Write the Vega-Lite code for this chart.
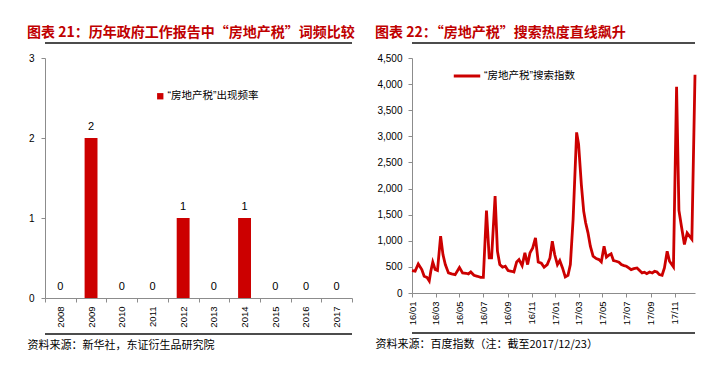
{
  "$schema": "https://vega.github.io/schema/vega-lite/v6.json",
  "background": "white",
  "padding": {"left": 27, "top": 26, "right": 5, "bottom": 5},
  "spacing": 20,
  "resolve": {"scale": {"color": "independent"}, "legend": {"color": "independent"}},
  "config": {
    "view": {"stroke": null},
    "font": "Liberation Sans",
    "axis": {
      "domainColor": "#8c8c8c",
      "tickColor": "#8c8c8c",
      "labelColor": "#000000",
      "labelFont": "Liberation Sans",
      "labelFontSize": 10,
      "grid": false,
      "tickSize": 4
    },
    "title": {
      "font": "Noto Sans CJK SC",
      "fontSize": 14,
      "fontWeight": "bold",
      "color": "#C00000",
      "anchor": "start",
      "offset": 2
    },
    "legend": {"padding": 0, "labelFont": "Liberation Sans, Noto Sans CJK SC", "labelFontSize": 10.5, "labelColor": "#000000"}
  },
  "datasets": {
    "freq": [
      {"year": "2008", "count": 0},
      {"year": "2009", "count": 2},
      {"year": "2010", "count": 0},
      {"year": "2011", "count": 0},
      {"year": "2012", "count": 1},
      {"year": "2013", "count": 0},
      {"year": "2014", "count": 1},
      {"year": "2015", "count": 0},
      {"year": "2016", "count": 0},
      {"year": "2017", "count": 0}
    ],
    "idx": [
      {"date": "2016-01-01", "value": 430},
      {"date": "2016-01-09", "value": 420},
      {"date": "2016-01-17", "value": 555},
      {"date": "2016-01-26", "value": 450},
      {"date": "2016-02-01", "value": 320},
      {"date": "2016-02-08", "value": 300},
      {"date": "2016-02-14", "value": 230},
      {"date": "2016-02-18", "value": 416},
      {"date": "2016-02-23", "value": 590},
      {"date": "2016-02-29", "value": 450},
      {"date": "2016-03-06", "value": 430},
      {"date": "2016-03-14", "value": 1090},
      {"date": "2016-03-20", "value": 736},
      {"date": "2016-03-26", "value": 544},
      {"date": "2016-04-03", "value": 384},
      {"date": "2016-04-11", "value": 365},
      {"date": "2016-04-20", "value": 352},
      {"date": "2016-05-01", "value": 490},
      {"date": "2016-05-09", "value": 384},
      {"date": "2016-05-18", "value": 378},
      {"date": "2016-05-24", "value": 365},
      {"date": "2016-05-30", "value": 403},
      {"date": "2016-06-07", "value": 339},
      {"date": "2016-06-16", "value": 320},
      {"date": "2016-06-24", "value": 300},
      {"date": "2016-07-01", "value": 300},
      {"date": "2016-07-09", "value": 1580},
      {"date": "2016-07-16", "value": 672},
      {"date": "2016-07-22", "value": 672},
      {"date": "2016-07-31", "value": 1856},
      {"date": "2016-08-06", "value": 800},
      {"date": "2016-08-12", "value": 544},
      {"date": "2016-08-19", "value": 493},
      {"date": "2016-08-26", "value": 512},
      {"date": "2016-09-02", "value": 429},
      {"date": "2016-09-11", "value": 416},
      {"date": "2016-09-17", "value": 403},
      {"date": "2016-09-24", "value": 595},
      {"date": "2016-09-30", "value": 640},
      {"date": "2016-10-08", "value": 525},
      {"date": "2016-10-15", "value": 768},
      {"date": "2016-10-22", "value": 544},
      {"date": "2016-10-28", "value": 768},
      {"date": "2016-11-04", "value": 864},
      {"date": "2016-11-11", "value": 1056},
      {"date": "2016-11-18", "value": 595},
      {"date": "2016-11-26", "value": 570},
      {"date": "2016-12-03", "value": 493},
      {"date": "2016-12-11", "value": 544},
      {"date": "2016-12-18", "value": 672},
      {"date": "2016-12-24", "value": 990},
      {"date": "2016-12-30", "value": 736},
      {"date": "2017-01-06", "value": 544},
      {"date": "2017-01-12", "value": 621},
      {"date": "2017-01-19", "value": 480},
      {"date": "2017-01-26", "value": 307},
      {"date": "2017-02-02", "value": 339},
      {"date": "2017-02-08", "value": 544},
      {"date": "2017-02-15", "value": 1408},
      {"date": "2017-02-24", "value": 3075},
      {"date": "2017-03-01", "value": 2850},
      {"date": "2017-03-08", "value": 2080},
      {"date": "2017-03-14", "value": 1568},
      {"date": "2017-03-19", "value": 1344},
      {"date": "2017-03-25", "value": 1152},
      {"date": "2017-03-31", "value": 896},
      {"date": "2017-04-07", "value": 704},
      {"date": "2017-04-15", "value": 659},
      {"date": "2017-04-22", "value": 640},
      {"date": "2017-04-28", "value": 595},
      {"date": "2017-05-05", "value": 896},
      {"date": "2017-05-11", "value": 685},
      {"date": "2017-05-17", "value": 723},
      {"date": "2017-05-23", "value": 749},
      {"date": "2017-05-29", "value": 621},
      {"date": "2017-06-05", "value": 608},
      {"date": "2017-06-12", "value": 589},
      {"date": "2017-06-18", "value": 544},
      {"date": "2017-06-25", "value": 525},
      {"date": "2017-07-01", "value": 512},
      {"date": "2017-07-07", "value": 480},
      {"date": "2017-07-13", "value": 448},
      {"date": "2017-07-20", "value": 467},
      {"date": "2017-07-28", "value": 480},
      {"date": "2017-08-03", "value": 435},
      {"date": "2017-08-10", "value": 384},
      {"date": "2017-08-16", "value": 397},
      {"date": "2017-08-22", "value": 371},
      {"date": "2017-08-29", "value": 403},
      {"date": "2017-09-05", "value": 384},
      {"date": "2017-09-11", "value": 416},
      {"date": "2017-09-17", "value": 403},
      {"date": "2017-09-23", "value": 352},
      {"date": "2017-09-30", "value": 339},
      {"date": "2017-10-06", "value": 480},
      {"date": "2017-10-13", "value": 800},
      {"date": "2017-10-19", "value": 608},
      {"date": "2017-10-29", "value": 500},
      {"date": "2017-11-06", "value": 3950},
      {"date": "2017-11-12", "value": 1580},
      {"date": "2017-11-19", "value": 1250},
      {"date": "2017-11-26", "value": 930},
      {"date": "2017-12-03", "value": 1150},
      {"date": "2017-12-09", "value": 1090},
      {"date": "2017-12-15", "value": 1030},
      {"date": "2017-12-23", "value": 4180}
    ]
  },
  "hconcat": [
    {
      "title": {"text": "图表 21：历年政府工作报告中“房地产税”词频比较"},
      "width": 307,
      "height": 240,
      "data": {"name": "freq"},
      "layer": [
        {
          "mark": {"type": "bar", "width": {"band": 0.42}, "color": "#CC0000"},
          "encoding": {
            "x": {
              "field": "year", "type": "ordinal",
              "scale": {"paddingInner": 0, "paddingOuter": 0},
              "axis": {"title": null, "labelAngle": -90, "tickBand": "extent", "labelPadding": 4, "labelFontSize": 9.5}
            },
            "y": {
              "field": "count", "type": "quantitative",
              "scale": {"domain": [0, 3]},
              "axis": {"title": null, "values": [0, 1, 2, 3], "labelPadding": 7}
            },
            "color": {
              "datum": "“房地产税”出现频率",
              "scale": {"range": ["#CC0000"]},
              "legend": {"title": null, "orient": "none", "legendX": 110, "legendY": 33, "symbolType": "square", "symbolSize": 40, "labelOffset": 2}
            }
          }
        },
        {
          "mark": {"type": "text", "baseline": "bottom", "dy": -6, "fontSize": 11, "font": "Liberation Sans", "color": "#000000"},
          "encoding": {
            "x": {"field": "year", "type": "ordinal", "axis": null},
            "y": {"field": "count", "type": "quantitative", "axis": null},
            "text": {"field": "count", "type": "quantitative"}
          }
        },
        {
          "mark": {"type": "rule", "stroke": "#4d4d4d", "strokeWidth": 1.6, "clip": false},
          "encoding": {
            "x": {"value": 0},
            "x2": {"value": "width"},
            "y": {"datum": 3.1875, "type": "quantitative", "axis": null}
          }
        },
        {
          "mark": {"type": "rule", "stroke": "#4d4d4d", "strokeWidth": 1.6, "clip": false},
          "encoding": {
            "x": {"value": 0},
            "x2": {"value": "width"},
            "y": {"datum": -0.45, "type": "quantitative", "axis": null}
          }
        },
        {
          "mark": {"type": "point", "opacity": 0},
          "encoding": {
            "x": {
              "field": "year", "type": "ordinal",
              "axis": {
                "orient": "bottom", "offset": 36, "labels": false, "ticks": false, "domain": false,
                "title": "资料来源：新华社，东证衍生品研究院",
                "titleFont": "Noto Sans CJK SC", "titleFontSize": 11, "titleFontWeight": "normal",
                "titleColor": "#000000", "titleAnchor": "start", "titleAlign": "left",
                "titleBaseline": "top", "titleX": -18, "titleY": 5
              }
            },
            "y": {"field": "count", "type": "quantitative", "axis": null}
          }
        }
      ],
      "resolve": {"axis": {"x": "independent", "y": "independent"}}
    },
    {
      "title": {"text": "图表 22：“房地产税”搜索热度直线飙升"},
      "width": 283,
      "height": 235,
      "data": {"name": "idx"},
      "layer": [
        {
          "mark": {"type": "line", "strokeWidth": 2.8, "color": "#CC0000"},
          "encoding": {
            "x": {
              "field": "date", "type": "temporal",
              "scale": {"type": "utc", "domain": ["2016-01-01", "2017-12-23"]},
              "axis": {"title": null, "format": "%y/%m", "labelAngle": -90, "tickCount": {"interval": "month", "step": 2}, "labelPadding": 4, "labelFontSize": 9.5}
            },
            "y": {
              "field": "value", "type": "quantitative",
              "scale": {"domain": [0, 4500]},
              "axis": {"title": null, "values": [0, 500, 1000, 1500, 2000, 2500, 3000, 3500, 4000, 4500], "format": ",.0f", "labelPadding": 6}
            },
            "color": {
              "datum": "“房地产税”搜索指数",
              "scale": {"range": ["#CC0000"]},
              "legend": {"title": null, "orient": "none", "legendX": 40, "legendY": 3, "symbolType": "stroke", "symbolSize": 700, "symbolStrokeWidth": 3, "labelOffset": 2}
            }
          }
        },
        {
          "mark": {"type": "rule", "stroke": "#4d4d4d", "strokeWidth": 1.6, "clip": false},
          "encoding": {
            "x": {"value": 0},
            "x2": {"value": "width"},
            "y": {"datum": 4787, "type": "quantitative", "axis": null}
          }
        },
        {
          "mark": {"type": "rule", "stroke": "#4d4d4d", "strokeWidth": 1.6, "clip": false},
          "encoding": {
            "x": {"value": 0},
            "x2": {"value": "width"},
            "y": {"datum": -766, "type": "quantitative", "axis": null}
          }
        },
        {
          "mark": {"type": "point", "opacity": 0},
          "encoding": {
            "x": {
              "field": "date", "type": "temporal",
              "axis": {
                "orient": "bottom", "offset": 40, "labels": false, "ticks": false, "domain": false,
                "title": "资料来源：百度指数（注：截至2017/12/23）",
                "titleFont": "Noto Sans CJK SC", "titleFontSize": 11, "titleFontWeight": "normal",
                "titleColor": "#000000", "titleAnchor": "start", "titleAlign": "left",
                "titleBaseline": "top", "titleX": -37, "titleY": 5
              }
            },
            "y": {"field": "value", "type": "quantitative", "axis": null}
          }
        }
      ],
      "resolve": {"axis": {"x": "independent", "y": "independent"}}
    }
  ]
}
